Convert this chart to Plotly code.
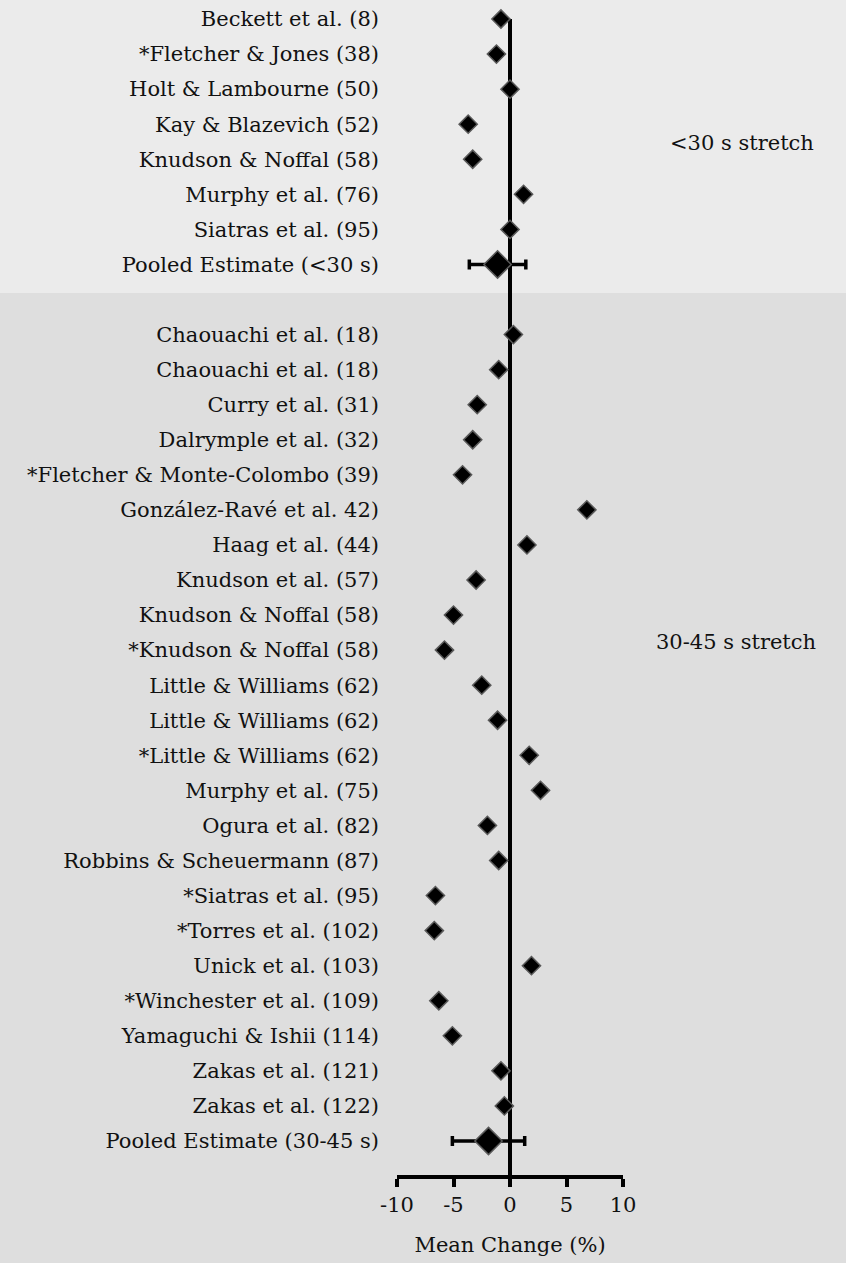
import plotly.graph_objects as go

# ---- data ----
group1_labels = ["Beckett et al. (8)", "*Fletcher & Jones (38)", "Holt & Lambourne (50)",
                 "Kay & Blazevich (52)", "Knudson & Noffal (58)", "Murphy et al. (76)",
                 "Siatras et al. (95)"]
group1_values = [-0.8, -1.2, 0.0, -3.7, -3.3, 1.2, 0.0]
pooled1_label = "Pooled Estimate (<30 s)"
pooled1_value = -1.1
pooled1_low = -3.6
pooled1_high = 1.4

group2_labels = ["Chaouachi et al. (18)", "Chaouachi et al. (18)", "Curry et al. (31)",
                 "Dalrymple et al. (32)", "*Fletcher & Monte-Colombo (39)",
                 "González-Ravé et al. 42)", "Haag et al. (44)", "Knudson et al. (57)",
                 "Knudson & Noffal (58)", "*Knudson & Noffal (58)", "Little & Williams (62)",
                 "Little & Williams (62)", "*Little & Williams (62)", "Murphy et al. (75)",
                 "Ogura et al. (82)", "Robbins & Scheuermann (87)", "*Siatras et al. (95)",
                 "*Torres et al. (102)", "Unick et al. (103)", "*Winchester et al. (109)",
                 "Yamaguchi & Ishii (114)", "Zakas et al. (121)", "Zakas et al. (122)"]
group2_values = [0.3, -1.0, -2.9, -3.3, -4.2, 6.8, 1.5, -3.0, -5.0, -5.8, -2.5, -1.1,
                 1.7, 2.7, -2.0, -1.0, -6.6, -6.7, 1.9, -6.3, -5.1, -0.8, -0.5]
pooled2_label = "Pooled Estimate (30-45 s)"
pooled2_value = -1.9
pooled2_low = -5.1
pooled2_high = 1.3

group1_title = "<30 s stretch"
group2_title = "30-45 s stretch"
x_ticks = [-10, -5, 0, 5, 10]
x_title = "Mean Change (%)"

# ---- row positions (slot indices) ----
n1 = len(group1_labels)
g1_pos = list(range(n1))
p1_pos = n1
g2_start = n1 + 2
g2_pos = [g2_start + i for i in range(len(group2_labels))]
p2_pos = g2_start + len(group2_labels)

all_pos = g1_pos + [p1_pos] + g2_pos + [p2_pos]
all_labels = group1_labels + [pooled1_label] + group2_labels + [pooled2_label]

FONT = "DejaVu Serif"
FS = 21
W, H = 846, 1263
L, R, T, B = 397, 223, 0, 88
row_px = 35.06
y_top = -19 / row_px
y_bottom = p2_pos + (1175 - 1141) / row_px

marker_small = dict(symbol="diamond", size=14, color="black",
                    line=dict(color="#5a5a5a", width=1.5))
marker_big = dict(symbol="diamond", size=21, color="black",
                  line=dict(color="#5a5a5a", width=1.5))

fig = go.Figure()
fig.add_trace(go.Scatter(x=group1_values + group2_values, y=g1_pos + g2_pos,
                         mode="markers", marker=marker_small, showlegend=False,
                         cliponaxis=False))
fig.add_trace(go.Scatter(
    x=[pooled1_value, pooled2_value], y=[p1_pos, p2_pos], mode="markers",
    marker=marker_big, showlegend=False, cliponaxis=False,
    error_x=dict(type="data", symmetric=False,
                 array=[pooled1_high - pooled1_value, pooled2_high - pooled2_value],
                 arrayminus=[pooled1_value - pooled1_low, pooled2_value - pooled2_low],
                 color="black", thickness=3.5, width=5)))

# background bands
plot_h = H - T - B
boundary_px = 293
fig.add_shape(type="rect", xref="paper", yref="paper", x0=-2, x1=2,
              y0=1 - boundary_px / plot_h, y1=1.1, fillcolor="#ebebeb",
              line=dict(width=0), layer="below")
# zero line
fig.add_shape(type="line", xref="x", yref="y", x0=0, x1=0, y0=0, y1=y_bottom,
              line=dict(color="black", width=4), layer="below")

# group titles
fig.add_annotation(text=group1_title, xref="paper", yref="y", xanchor="center",
                   x=(742 - L) / (W - L - R), y=(143 - 19) / row_px, showarrow=False,
                   font=dict(family=FONT, size=FS, color="#111"))
fig.add_annotation(text=group2_title, xref="paper", yref="y", xanchor="center",
                   x=(736 - L) / (W - L - R), y=(642 - 19) / row_px, showarrow=False,
                   font=dict(family=FONT, size=FS, color="#111"))

fig.update_layout(
    width=W, height=H,
    margin=dict(l=L, r=R, t=T, b=B, pad=0),
    paper_bgcolor="#dedede", plot_bgcolor="rgba(0,0,0,0)",
    font=dict(family=FONT, size=FS, color="#111"),
    xaxis=dict(range=[-10, 10], tickvals=x_ticks, ticktext=[str(v) for v in x_ticks],
               showgrid=False, zeroline=False, showline=True, linewidth=4,
               linecolor="black", ticks="outside", ticklen=8, tickwidth=4,
               tickcolor="black", automargin=False,
               title=dict(text=x_title, standoff=22, font=dict(family=FONT, size=FS)),
               tickfont=dict(family=FONT, size=FS)),
    yaxis=dict(range=[y_bottom, y_top], tickvals=all_pos, ticktext=all_labels,
               showgrid=False, zeroline=False, showline=False, ticks="",
               automargin=False, tickfont=dict(family=FONT, size=FS),
               ticklabelstandoff=17),
)

fig.write_html("out.html", config={"displayModeBar": False},
               post_script="document.body.style.margin='0';document.body.style.overflow='hidden';")
